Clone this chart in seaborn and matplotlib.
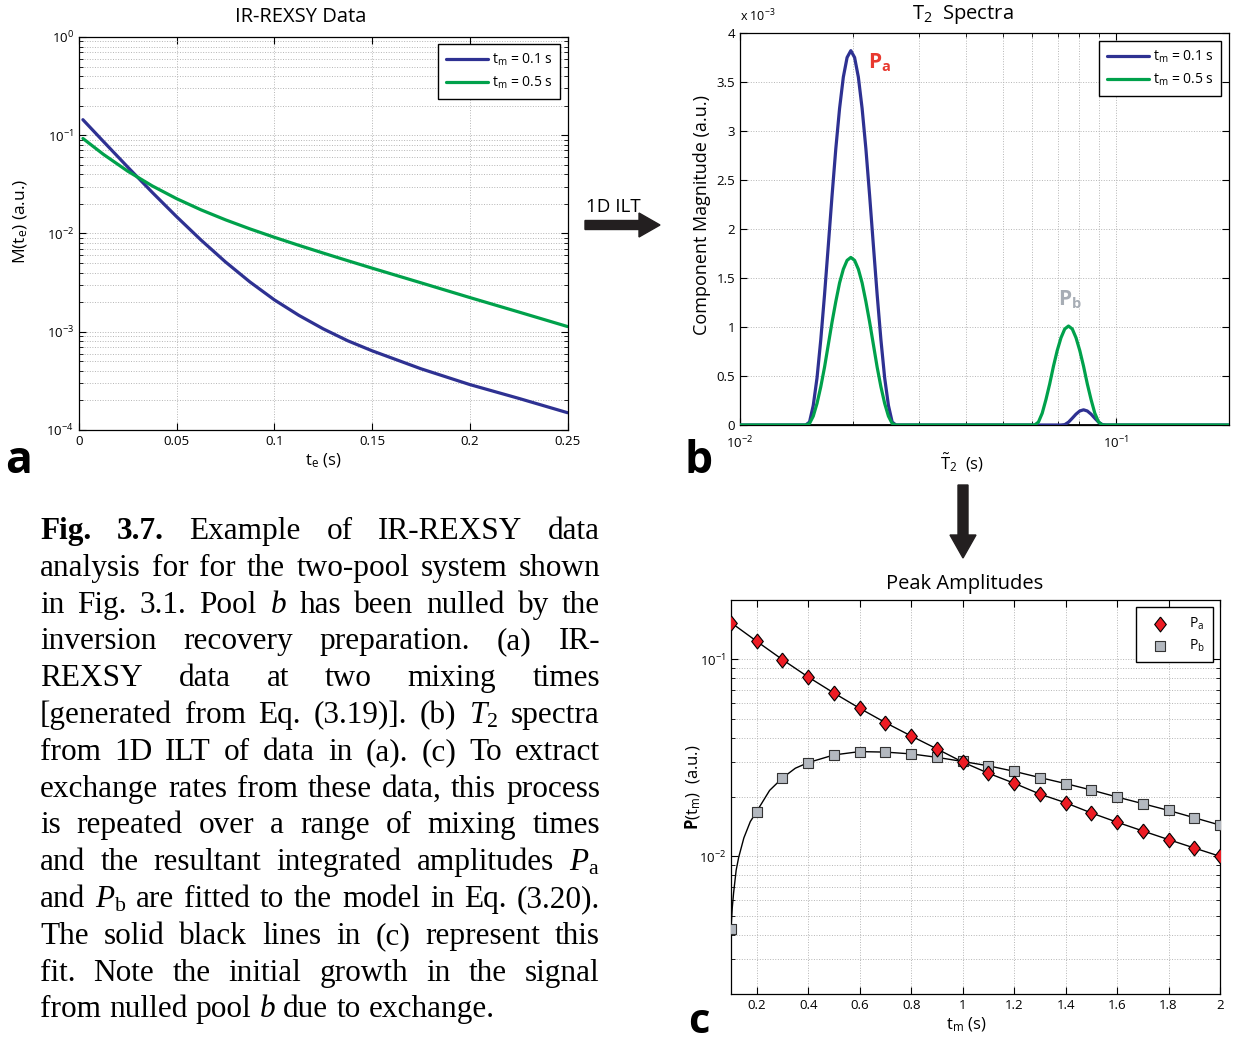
import matplotlib
matplotlib.use("Agg")
import matplotlib.pyplot as plt
import matplotlib.patches as mpatches
from matplotlib.transforms import IdentityTransform
from matplotlib.ticker import (LogLocator, NullFormatter, FixedLocator,
                               FixedFormatter)
import seaborn as sns

# ---------------- (a) IR-REXSY decay data ----------------
te_s = [0.002, 0.0125, 0.025, 0.0375, 0.05, 0.0625, 0.075, 0.0875, 0.1,
        0.1125, 0.125, 0.1375, 0.15, 0.175, 0.2, 0.225, 0.25]
decay_tm01 = [0.144, 0.0864, 0.0473, 0.0262, 0.0148, 0.00856, 0.00513,
              0.00321, 0.00211, 0.00147, 0.00107, 0.00081, 0.00064,
              0.00042, 0.00029, 0.00021, 0.00015]
decay_tm05 = [0.0927, 0.0639, 0.0430, 0.0305, 0.0226, 0.01739, 0.01377,
              0.01114, 0.00915, 0.00758, 0.00632, 0.00529, 0.00444,
              0.00315, 0.00223, 0.00159, 0.00113]

# ---------------- (b) T2 spectra, magnitudes in units of 1e-3 ----------------
t2_range = [0.01, 0.2]
t2_peak_a = [0.014960, 0.015308, 0.015664, 0.016029, 0.016403, 0.016785,
             0.017176, 0.017575, 0.017985, 0.018404, 0.018833, 0.019271,
             0.019720, 0.020179, 0.020649, 0.021130, 0.021623, 0.022126,
             0.022642, 0.023169, 0.023709, 0.024261, 0.024826, 0.025404,
             0.025996]
spec_a_tm01 = [0.0, 0.03, 0.20, 0.48, 0.87, 1.33, 1.83, 2.34, 2.82, 3.23,
               3.55, 3.75, 3.82, 3.75, 3.55, 3.23, 2.82, 2.34, 1.83, 1.33,
               0.87, 0.48, 0.20, 0.03, 0.0]
spec_a_tm05 = [0.0, 0.015, 0.09, 0.22, 0.39, 0.59, 0.82, 1.05, 1.26, 1.45,
               1.59, 1.68, 1.71, 1.68, 1.59, 1.45, 1.26, 1.05, 0.82, 0.59,
               0.39, 0.22, 0.09, 0.015, 0.0]
t2_peak_b_tm01 = [0.071454, 0.073118, 0.074822, 0.076563, 0.078347, 0.080173,
                  0.082040, 0.083951, 0.085907, 0.087907, 0.089954, 0.092049,
                  0.094192]
spec_b_tm01 = [0.0, 0.004, 0.029, 0.069, 0.111, 0.143, 0.155, 0.143, 0.111,
               0.069, 0.029, 0.004, 0.0]
t2_peak_b_tm05 = [0.060816, 0.062233, 0.063682, 0.065165, 0.066683, 0.068237,
                  0.069826, 0.071452, 0.073117, 0.074820, 0.076563, 0.078346,
                  0.080171, 0.082038, 0.083949, 0.085904, 0.087906, 0.089953,
                  0.092048]
spec_b_tm05 = [0.0, 0.03, 0.12, 0.26, 0.42, 0.60, 0.76, 0.89, 0.98, 1.01,
               0.98, 0.89, 0.76, 0.60, 0.42, 0.26, 0.12, 0.03, 0.0]

# ---------------- (c) integrated peak amplitudes ----------------
tm_s = [0.1, 0.2, 0.3, 0.4, 0.5, 0.6, 0.7, 0.8, 0.9, 1.0,
        1.1, 1.2, 1.3, 1.4, 1.5, 1.6, 1.7, 1.8, 1.9, 2.0]
amp_pa = [0.1535, 0.1234, 0.0996, 0.0813, 0.0674, 0.0564, 0.0477, 0.0408,
          0.0351, 0.0301, 0.0264, 0.0235, 0.0207, 0.0187, 0.0166, 0.0149,
          0.01345, 0.01216, 0.01102, 0.0100]
amp_pb = [0.00429, 0.01687, 0.0250, 0.0299, 0.0327, 0.0340, 0.0338, 0.0331,
          0.0318, 0.0303, 0.0288, 0.0270, 0.0251, 0.0234, 0.0217, 0.0200,
          0.0185, 0.0171, 0.0157, 0.0144]
fit_tm = [0.1, 0.105, 0.11, 0.12, 0.13, 0.15, 0.175, 0.2, 0.25, 0.3, 0.35,
          0.4, 0.5, 0.6, 0.7, 0.8, 0.9, 1.0, 1.1, 1.2, 1.3, 1.4, 1.5, 1.6,
          1.7, 1.8, 1.9, 2.0]
fit_pb = [0.00429, 0.0055, 0.0065, 0.0085, 0.0099, 0.0124, 0.0150, 0.0169,
          0.0216, 0.0250, 0.0280, 0.0299, 0.0327, 0.0340, 0.0338, 0.0331,
          0.0318, 0.0303, 0.0288, 0.0270, 0.0251, 0.0234, 0.0217, 0.0200,
          0.0185, 0.0171, 0.0157, 0.0144]

BLUE = "#2e3192"
GREEN = "#00a14b"
RED = "#ed1c24"
GREY = "#b3b8bf"
PB_LABEL = "#a7adb5"

sns.set_theme(style="ticks")
plt.rcParams["font.family"] = ["Open Sans", "DejaVu Sans"]
plt.rcParams.update({
    "mathtext.fontset": "custom",
    "mathtext.rm": "Liberation Serif",
    "mathtext.it": "Liberation Serif:italic",
    "mathtext.bf": "Open Sans:bold",
    "axes.linewidth": 0.9,
    "axes.edgecolor": "black",
    "xtick.direction": "in",
    "ytick.direction": "in",
    "xtick.top": True,
    "ytick.right": True,
    "xtick.major.size": 5,
    "ytick.major.size": 5,
    "xtick.minor.size": 3,
    "ytick.minor.size": 3,
    "xtick.major.width": 0.8,
    "ytick.major.width": 0.8,
    "xtick.minor.width": 0.6,
    "ytick.minor.width": 0.6,
    "xtick.labelsize": 9.5,
    "ytick.labelsize": 9.5,
    "xtick.color": "black",
    "ytick.color": "black",
    "axes.labelcolor": "black",
    "text.color": "black",
})

W, H = 1233, 1044
fig = plt.figure(figsize=(W / 100, H / 100), dpi=100)
fig.patch.set_facecolor("white")


def px_axes(left, top, right, bottom):
    return fig.add_axes([left / W, 1 - bottom / H, (right - left) / W,
                         (bottom - top) / H])


GRID = dict(ls=":", color="#b5b5b5", lw=0.7)


def style_legend(leg):
    fr = leg.get_frame()
    fr.set_edgecolor("black")
    fr.set_linewidth(1.0)
    fr.set_facecolor("white")
    fr.set_alpha(1)


# ---------------- panel (a) ----------------
ax_a = px_axes(79, 37, 567.5, 430)
sns.lineplot(x=te_s, y=decay_tm01, ax=ax_a, color=BLUE, lw=2.3,
             label=r"$\mathregular{t_m}$ = 0.1 s", estimator=None, sort=False)
sns.lineplot(x=te_s, y=decay_tm05, ax=ax_a, color=GREEN, lw=2.3,
             label=r"$\mathregular{t_m}$ = 0.5 s", estimator=None, sort=False)
ax_a.set_yscale("log")
ax_a.set_ylim(1e-4, 1)
ax_a.set_xlim(0, 0.25)
ax_a.xaxis.set_major_locator(FixedLocator([0, 0.05, 0.1, 0.15, 0.2, 0.25]))
ax_a.xaxis.set_major_formatter(FixedFormatter(["0", "0.05", "0.1", "0.15", "0.2", "0.25"]))
ax_a.yaxis.set_major_locator(LogLocator(base=10, numticks=10))
ax_a.yaxis.set_minor_locator(LogLocator(base=10, subs=range(2, 10), numticks=20))
ax_a.yaxis.set_minor_formatter(NullFormatter())
ax_a.grid(True, which="major", **GRID)
ax_a.grid(True, which="minor", axis="y", **GRID)
ax_a.set_title("IR-REXSY Data", fontsize=14.5, pad=11)
ax_a.title.set_x(0.454)
ax_a.set_xlabel(r"$\mathregular{t_e}$ (s)", fontsize=12, labelpad=3)
ax_a.set_ylabel(r"M($\mathregular{t_e}$) (a.u.)", fontsize=12.5, labelpad=12)
ax_a.yaxis.label.set_y(0.53)
leg = ax_a.legend(loc="upper right", bbox_to_anchor=(0.985, 0.982),
                  borderaxespad=0, fontsize=10, handlelength=3.0,
                  handletextpad=0.3, labelspacing=0.5, fancybox=False,
                  borderpad=0.55)
style_legend(leg)

# ---------------- panel (b) ----------------
ax_b = px_axes(740, 33, 1229, 425)
ax_b.axhline(0, color="black", lw=2.0, zorder=1)
spec_x_tm01 = [t2_range[0]] + t2_peak_a + t2_peak_b_tm01 + [t2_range[1]]
spec_y_tm01 = [0.0] + spec_a_tm01 + spec_b_tm01 + [0.0]
spec_x_tm05 = [t2_range[0]] + t2_peak_a + t2_peak_b_tm05 + [t2_range[1]]
spec_y_tm05 = [0.0] + spec_a_tm05 + spec_b_tm05 + [0.0]
sns.lineplot(x=spec_x_tm01, y=spec_y_tm01, ax=ax_b, color=BLUE, lw=2.3,
             label=r"$\mathregular{t_m}$ = 0.1 s", estimator=None, sort=False,
             zorder=3)
sns.lineplot(x=spec_x_tm05, y=spec_y_tm05, ax=ax_b, color=GREEN, lw=2.3,
             label=r"$\mathregular{t_m}$ = 0.5 s", estimator=None, sort=False,
             zorder=4)
ax_b.set_xscale("log")
ax_b.set_xlim(t2_range)
ax_b.set_ylim(0, 4)
ax_b.xaxis.set_major_locator(FixedLocator([0.01, 0.1]))
ax_b.xaxis.set_major_formatter(FixedFormatter([r"$\mathregular{10^{-2}}$",
                                               r"$\mathregular{10^{-1}}$"]))
ax_b.xaxis.set_minor_locator(LogLocator(base=10, subs=range(2, 10), numticks=20))
ax_b.xaxis.set_minor_formatter(NullFormatter())
ax_b.yaxis.set_major_locator(FixedLocator([0, 0.5, 1, 1.5, 2, 2.5, 3, 3.5, 4]))
ax_b.yaxis.set_major_formatter(FixedFormatter(["0", "0.5", "1", "1.5", "2", "2.5", "3", "3.5", "4"]))
ax_b.tick_params(axis="x", which="major", pad=7)
ax_b.grid(True, which="major", **GRID)
ax_b.grid(True, which="minor", axis="x", **GRID)
ax_b.set_title(r"$\mathregular{T_2}$  Spectra", fontsize=14.5, pad=10)
ax_b.title.set_x(0.456)
ax_b.set_xlabel(r"$\mathregular{\tilde{T}_2}$  (s)", fontsize=12, labelpad=0)
ax_b.xaxis.label.set_x(0.455)
ax_b.set_ylabel("Component Magnitude (a.u.)", fontsize=13, labelpad=4)
ax_b.yaxis.label.set_y(0.536)
ax_b.text(0.0, 1.022, r"x $\mathregular{10^{-3}}$", transform=ax_b.transAxes,
          fontsize=9, ha="left", va="bottom")
ax_b.text(0.0219, 3.70, r"$\mathbf{P_a}$", color="#e8392f", fontsize=15,
          ha="left", va="center")
ax_b.text(0.0702, 1.28, r"$\mathbf{P_b}$", color=PB_LABEL, fontsize=15,
          ha="left", va="center")
leg = ax_b.legend(loc="upper right", bbox_to_anchor=(0.984, 0.98),
                  borderaxespad=0, fontsize=10, handlelength=3.0,
                  handletextpad=0.3, labelspacing=0.5, fancybox=False,
                  borderpad=0.55)
style_legend(leg)

# ---------------- panel (c) ----------------
ax_c = px_axes(731, 600, 1220, 994)
diamond = [(0, 1), (0.78, 0), (0, -1), (-0.78, 0), (0, 1)]
sns.lineplot(x=tm_s, y=amp_pa, ax=ax_c, color="black", lw=1.0,
             estimator=None, sort=False, zorder=2)
sns.lineplot(x=fit_tm, y=fit_pb, ax=ax_c, color="black", lw=1.0,
             estimator=None, sort=False, zorder=2)
sns.scatterplot(x=tm_s, y=amp_pa, ax=ax_c, marker=diamond, s=115,
                color=RED, edgecolor="black", linewidth=0.8,
                label=r"$\mathregular{P_a}$", zorder=4)
sns.scatterplot(x=tm_s, y=amp_pb, ax=ax_c, marker="s", s=55,
                color=GREY, edgecolor="#333333", linewidth=0.8,
                label=r"$\mathregular{P_b}$", zorder=3)
ax_c.set_yscale("log")
ax_c.set_ylim(0.002, 0.2)
ax_c.set_xlim(0.1, 2.0)
ax_c.xaxis.set_major_locator(FixedLocator([0.2, 0.4, 0.6, 0.8, 1.0, 1.2, 1.4, 1.6, 1.8, 2.0]))
ax_c.xaxis.set_major_formatter(FixedFormatter(["0.2", "0.4", "0.6", "0.8", "1", "1.2", "1.4", "1.6", "1.8", "2"]))
ax_c.yaxis.set_major_locator(FixedLocator([0.01, 0.1]))
ax_c.yaxis.set_major_formatter(FixedFormatter([r"$\mathregular{10^{-2}}$",
                                               r"$\mathregular{10^{-1}}$"]))
ax_c.yaxis.set_minor_locator(LogLocator(base=10, subs=range(2, 10), numticks=20))
ax_c.yaxis.set_minor_formatter(NullFormatter())
ax_c.grid(True, which="major", **GRID)
ax_c.grid(True, which="minor", axis="y", **GRID)
ax_c.set_title("Peak Amplitudes", fontsize=14.5, pad=8)
ax_c.title.set_x(0.4785)
ax_c.set_xlabel(r"$\mathregular{t_m}$ (s)", fontsize=12, labelpad=3)
ax_c.xaxis.label.set_x(0.482)
ax_c.set_ylabel(r"$\mathbf{P}$$\mathregular{(t_m)}$  (a.u.)", fontsize=12, labelpad=-3)
ax_c.yaxis.label.set_y(0.525)
leg = ax_c.legend(loc="upper right", bbox_to_anchor=(0.986, 0.982),
                  borderaxespad=0, fontsize=10, handlelength=2.2,
                  handletextpad=1.0, labelspacing=0.4, fancybox=False,
                  borderpad=0.6)
style_legend(leg)

# ---------------- panel letters ----------------
for txt, x, y in [("a", 19, 473), ("b", 699, 473)]:
    fig.text(x, H - y, txt, transform=IdentityTransform(), fontsize=32,
             fontweight="bold", ha="center", va="baseline")
fig.text(699, 1, "c", transform=IdentityTransform(), fontsize=30,
         fontweight="bold", ha="center", va="bottom")

# ---------------- arrows between panels ----------------
fig.text(613, H - 207, "1D ILT", transform=IdentityTransform(), fontsize=13.5,
         ha="center", va="center")
fig.add_artist(mpatches.FancyArrow(585, H - 225, 54, 0, width=9,
                                   head_width=24, head_length=21,
                                   length_includes_head=False, color="#231f20",
                                   transform=IdentityTransform()))
fig.add_artist(mpatches.FancyArrow(963, H - 485, 0, -50, width=10,
                                   head_width=26, head_length=23,
                                   length_includes_head=False, color="#231f20",
                                   transform=IdentityTransform()))

# ---------------- caption (justified block) ----------------
caption_lines = [
    ("Fig. 3.7. Example of IR-REXSY data", True),
    ("analysis for for the two-pool system shown", True),
    ("in Fig. 3.1. Pool $b$ has been nulled by the", True),
    ("inversion recovery preparation. (a) IR-", True),
    ("REXSY data at two mixing times", True),
    ("[generated from Eq. (3.19)]. (b) $T_2$ spectra", True),
    ("from 1D ILT of data in (a). (c) To extract", True),
    ("exchange rates from these data, this process", True),
    ("is repeated over a range of mixing times", True),
    ("and the resultant integrated amplitudes $P_\\mathrm{a}$", True),
    ("and $P_\\mathrm{b}$ are fitted to the model in Eq. (3.20).", True),
    ("The solid black lines in (c) represent this", True),
    ("fit. Note the initial growth in the signal", True),
    ("from nulled pool $b$ due to exchange.", False),
]
CAP_X0, CAP_X1 = 40, 600
CAP_Y0, CAP_DY = 539, 36.8
CAP_SIZE = 22.5

renderer = fig.canvas.get_renderer()
probe = fig.text(0, 0, "a a", fontsize=CAP_SIZE, family="Liberation Serif",
                 transform=IdentityTransform())
probe2 = fig.text(0, 0, "aa", fontsize=CAP_SIZE, family="Liberation Serif",
                  transform=IdentityTransform())
space_w = (probe.get_window_extent(renderer).width
           - probe2.get_window_extent(renderer).width)
probe.remove()
probe2.remove()

for i, (line, justify) in enumerate(caption_lines):
    words = line.split(" ")
    texts = []
    for k, word in enumerate(words):
        bold = (i == 0 and k < 2)
        t = fig.text(0, 0, word, transform=IdentityTransform(),
                     fontsize=CAP_SIZE, family="Liberation Serif",
                     fontweight="bold" if bold else "normal",
                     ha="left", va="baseline")
        texts.append(t)
    widths = [t.get_window_extent(renderer).width for t in texts]
    if justify and len(texts) > 1:
        gap = (CAP_X1 - CAP_X0 - sum(widths)) / (len(texts) - 1)
    else:
        gap = space_w
    x = CAP_X0
    y = H - (CAP_Y0 + i * CAP_DY)
    for t, w in zip(texts, widths):
        t.set_position((x, y))
        x += w + gap

fig.savefig("out.png", dpi=100, facecolor="white")
